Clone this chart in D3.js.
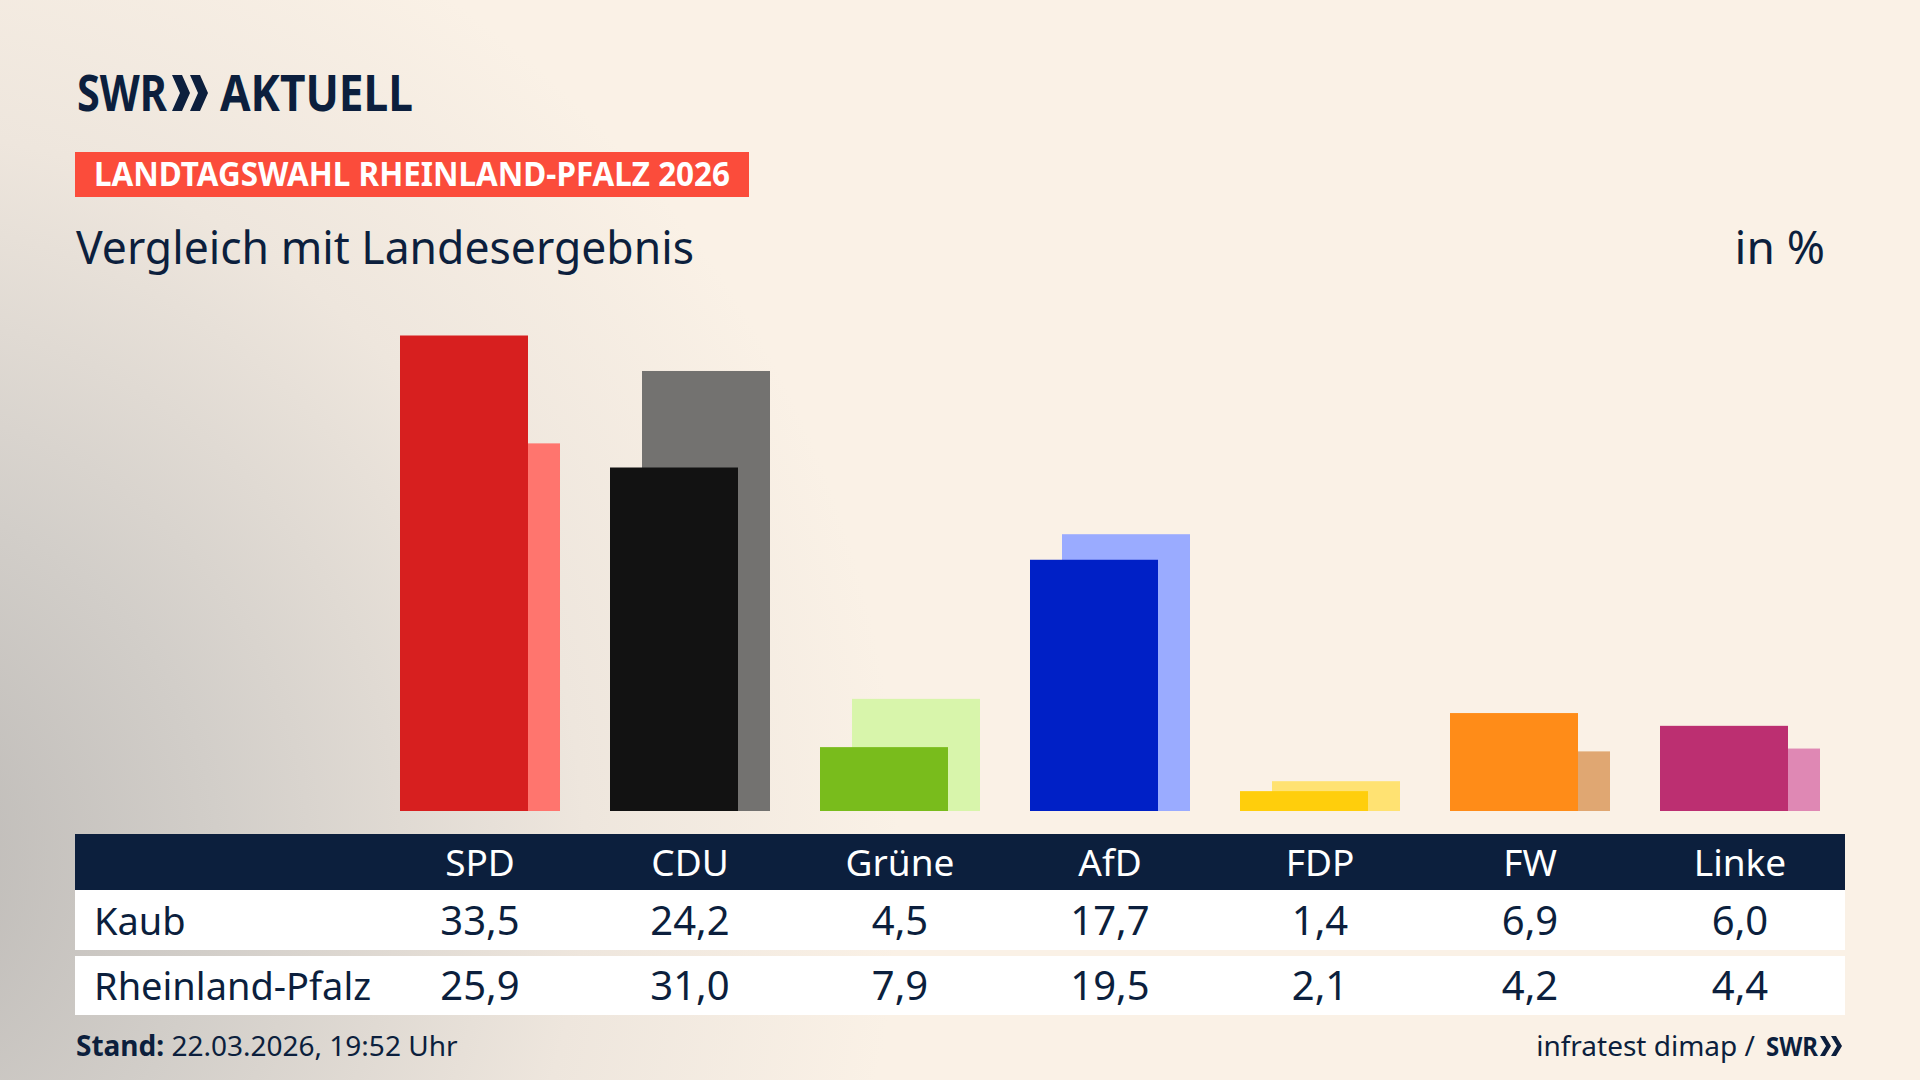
<!DOCTYPE html>
<html>
<head>
<meta charset="utf-8">
<script src="https://cdn.jsdelivr.net/npm/d3@7"></script>
<style>
  html, body { margin: 0; padding: 0; }
  body { width: 1920px; height: 1080px; overflow: hidden; }
  svg { display: block; font-family: "Noto Sans", "Open Sans", sans-serif; }
</style>
</head>
<body>
<script>
// data
var parties = ['SPD', 'CDU', 'Grüne', 'AfD', 'FDP', 'FW', 'Linke'];
var kaub = [33.5, 24.2, 4.5, 17.7, 1.4, 6.9, 6.0];
var land = [25.9, 31.0, 7.9, 19.5, 2.1, 4.2, 4.4];
var rowNames = ['Kaub', 'Rheinland-Pfalz'];
var kaubColors = ['#d71f1f', '#121212', '#79bc1c', '#0020c6', '#ffce0c', '#ff8c18', '#bc2f71'];
var landColors = ['#ff756e', '#737270', '#d8f5ab', '#9aabff', '#ffe272', '#e0a772', '#df88b4'];

var W = 1920, H = 1080;
var navy = '#0c1f3d';

var svg = d3.select('body').append('svg')
  .attr('width', W)
  .attr('height', H);

// background
var defs = svg.append('defs');
var grad = defs.append('radialGradient')
  .attr('id', 'bg')
  .attr('gradientUnits', 'userSpaceOnUse')
  .attr('cx', -150).attr('cy', 860).attr('r', 1050);
grad.append('stop').attr('offset', '0').attr('stop-color', '#b9b6b3');
grad.append('stop').attr('offset', '0.35').attr('stop-color', '#d2cec9');
grad.append('stop').attr('offset', '0.7').attr('stop-color', '#eee6dd');
grad.append('stop').attr('offset', '1').attr('stop-color', '#faf1e6');
svg.append('rect').attr('width', W).attr('height', H).attr('fill', '#faf1e6');
svg.append('rect').attr('width', W).attr('height', H).attr('fill', 'url(#bg)');

// logo
var logo = svg.append('g').attr('fill', navy);
logo.append('text')
  .attr('x', 77).attr('y', 111)
  .attr('font-size', 50).attr('font-weight', 700)
  .attr('textLength', 90).attr('lengthAdjust', 'spacingAndGlyphs')
  .text('SWR');
[172, 190].forEach(function(cx) {
  logo.append('path')
    .attr('d', 'M' + cx + ',75 L' + (cx + 10) + ',75 L' + (cx + 18) + ',93 L' + (cx + 10) + ',111 L' + cx + ',111 L' + (cx + 8) + ',93 Z');
});
logo.append('text')
  .attr('x', 220).attr('y', 111)
  .attr('font-size', 50).attr('font-weight', 700)
  .attr('textLength', 193).attr('lengthAdjust', 'spacingAndGlyphs')
  .text('AKTUELL');

// red label
svg.append('rect')
  .attr('x', 75).attr('y', 152)
  .attr('width', 674).attr('height', 45)
  .attr('fill', '#fb4c3b');
svg.append('text')
  .attr('x', 94).attr('y', 186)
  .attr('font-size', 34).attr('font-weight', 700)
  .attr('fill', '#fff')
  .attr('textLength', 636).attr('lengthAdjust', 'spacingAndGlyphs')
  .text('LANDTAGSWAHL RHEINLAND-PFALZ 2026');

// subtitle
svg.append('text')
  .attr('x', 76).attr('y', 264)
  .attr('font-size', 46)
  .attr('fill', navy)
  .attr('textLength', 618).attr('lengthAdjust', 'spacingAndGlyphs')
  .text('Vergleich mit Landesergebnis');
svg.append('text')
  .attr('x', 1825).attr('y', 264)
  .attr('font-size', 46)
  .attr('fill', navy)
  .attr('text-anchor', 'end')
  .text('in %');

// scales
var x = d3.scaleBand()
  .domain(parties)
  .range([400, 1820])
  .paddingInner(50 / 210)
  .paddingOuter(0);

var y = d3.scaleLinear()
  .domain([0, 33.5])
  .range([811, 335.5]);

var bw = x.bandwidth();
var barW = bw * 0.8;
var shift = bw - barW;

var bars = svg.append('g');

// Landesergebnis (behind, shifted right)
bars.selectAll('rect.land')
  .data(parties)
  .enter()
  .append('rect')
  .attr('class', 'land')
  .attr('x', function(d) { return x(d) + shift; })
  .attr('y', function(d, i) { return y(land[i]); })
  .attr('width', barW)
  .attr('height', function(d, i) { return y(0) - y(land[i]); })
  .attr('fill', function(d, i) { return landColors[i]; });

// Kaub (front)
bars.selectAll('rect.kaub')
  .data(parties)
  .enter()
  .append('rect')
  .attr('class', 'kaub')
  .attr('x', function(d) { return x(d); })
  .attr('y', function(d, i) { return y(kaub[i]); })
  .attr('width', barW)
  .attr('height', function(d, i) { return y(0) - y(kaub[i]); })
  .attr('fill', function(d, i) { return kaubColors[i]; });

// table
var tableX = 75, tableW = 1770;
var fmt = function(v) { return d3.format('.1f')(v).replace('.', ','); };
var cx = function(d) { return x(d) + bw / 2; };

svg.append('rect')
  .attr('x', tableX).attr('y', 834)
  .attr('width', tableW).attr('height', 56)
  .attr('fill', navy);

svg.append('g').selectAll('text')
  .data(parties)
  .enter()
  .append('text')
  .attr('x', cx)
  .attr('y', 876)
  .attr('text-anchor', 'middle')
  .attr('font-size', 37)
  .attr('fill', '#fff')
  .text(function(d) { return d; });

var rows = [
  { name: rowNames[0], values: kaub, top: 890, h: 60, base: 935 },
  { name: rowNames[1], values: land, top: 956, h: 59, base: 1000 }
];

rows.forEach(function(r) {
  svg.append('rect')
    .attr('x', tableX).attr('y', r.top)
    .attr('width', tableW).attr('height', r.h)
    .attr('fill', '#fff');
  svg.append('text')
    .attr('x', 94).attr('y', r.base)
    .attr('font-size', 38)
    .attr('fill', navy)
    .text(r.name);
  svg.append('g').selectAll('text')
    .data(parties)
    .enter()
    .append('text')
    .attr('x', cx)
    .attr('y', r.base)
    .attr('text-anchor', 'middle')
    .attr('font-size', 40)
    .attr('fill', navy)
    .text(function(d, i) { return fmt(r.values[i]); });
});

// footer
var stand = svg.append('text')
  .attr('x', 76).attr('y', 1056)
  .attr('font-size', 28)
  .attr('fill', navy);
stand.append('tspan').attr('font-weight', 700).text('Stand:');
stand.append('tspan').text(' 22.03.2026, 19:52 Uhr');

var src = svg.append('g').attr('fill', navy);
src.append('text')
  .attr('x', 1755).attr('y', 1056)
  .attr('text-anchor', 'end')
  .attr('font-size', 28)
  .text('infratest dimap /');
src.append('text')
  .attr('x', 1766).attr('y', 1056)
  .attr('font-size', 27).attr('font-weight', 700)
  .attr('textLength', 52).attr('lengthAdjust', 'spacingAndGlyphs')
  .text('SWR');
[1820, 1831].forEach(function(c) {
  src.append('path')
    .attr('d', 'M' + c + ',1036 L' + (c + 5) + ',1036 L' + (c + 11) + ',1046 L' + (c + 5) + ',1056 L' + c + ',1056 L' + (c + 6) + ',1046 Z');
});
</script>
</body>
</html>
